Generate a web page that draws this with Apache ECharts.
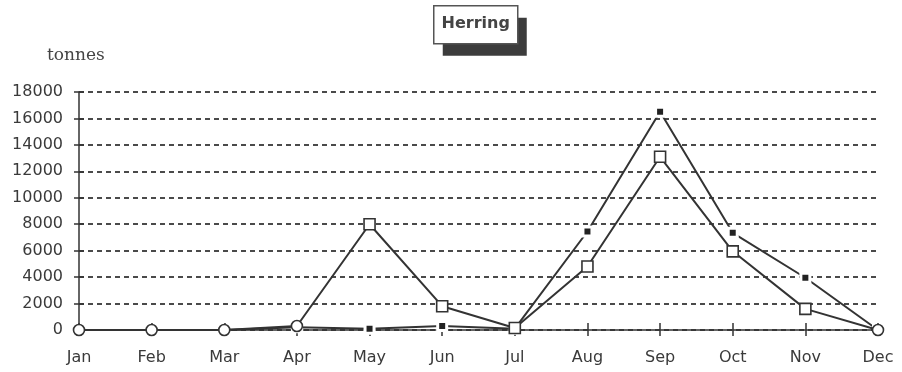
<!DOCTYPE html>
<html>
<head>
<meta charset="utf-8">
<script src="https://cdn.jsdelivr.net/npm/echarts@6/dist/echarts.min.js"></script>
<style>
  html, body { margin: 0; padding: 0; background: #fff; }
  #chart { width: 902px; height: 372px; }
</style>
</head>
<body>
<div id="chart"></div>
<script>
// Monthly herring catch, tonnes
const months = ['Jan', 'Feb', 'Mar', 'Apr', 'May', 'Jun', 'Jul', 'Aug', 'Sep', 'Oct', 'Nov', 'Dec'];
const openSeries = [0, 0, 0, 300, 8000, 1800, 150, 4800, 13100, 5950, 1600, 0];
const filledSeries = [0, 0, 0, 200, 100, 300, 100, 7450, 16500, 7350, 3950, 0];
const yTicks = { min: 0, max: 18000, interval: 2000 };

const ink = '#333';
const labelFont = { fontFamily: 'DejaVu Sans', fontSize: 16, color: '#3a3a3a' };

// markers that sit on the baseline are drawn round
const roundIdx = [0, 1, 2, 3, 11];

const chart = echarts.init(document.getElementById('chart'), null, { renderer: 'canvas' });

chart.setOption({
  backgroundColor: '#fff',
  animation: false,
  graphic: [{
    // boxed title with a solid drop shadow
    type: 'group',
    left: 433,
    top: 5,
    children: [{
      type: 'rect',
      shape: { x: 9, y: 12, width: 84, height: 38 },
      style: { fill: '#3c3c3c' }
    }, {
      type: 'rect',
      shape: { x: 0, y: 0, width: 84, height: 38 },
      style: { fill: '#fff', stroke: '#555', lineWidth: 1.5 }
    }, {
      type: 'text',
      x: 42,
      y: 18,
      style: {
        text: 'Herring',
        font: 'bold 16px "DejaVu Sans"',
        fill: '#444',
        align: 'center',
        verticalAlign: 'middle'
      }
    }]
  }, {
    type: 'text',
    left: 47,
    top: 47,
    style: { text: 'tonnes', font: '17px "DejaVu Serif"', fill: '#444' }
  }],
  grid: { left: 79, right: 24, top: 92, bottom: 42 },
  xAxis: [{
    type: 'category',
    data: months,
    boundaryGap: false,
    axisLine: { lineStyle: { color: ink, width: 1.5 } },
    axisTick: { inside: true, length: 7, lineStyle: { color: ink, width: 1.5 } },
    axisLabel: Object.assign({ margin: 20 }, labelFont),
    splitLine: { show: false }
  }, {
    // outward half of the crossing ticks
    type: 'category',
    data: months,
    position: 'bottom',
    boundaryGap: false,
    axisLine: { show: false },
    axisTick: { inside: false, length: 6, lineStyle: { color: ink, width: 1.5 } },
    axisLabel: { show: false },
    splitLine: { show: false }
  }],
  yAxis: [{
    type: 'value',
    min: yTicks.min,
    max: yTicks.max,
    interval: yTicks.interval,
    axisLine: { show: true, lineStyle: { color: ink, width: 1.5 } },
    axisTick: { show: true, inside: true, length: 5, lineStyle: { color: ink, width: 1.5 } },
    axisLabel: Object.assign({ margin: 16, formatter: function (v) { return String(v); } }, labelFont),
    splitLine: {
      show: true,
      lineStyle: { color: '#4a4a4a', width: 2, type: [5, 4] }
    }
  }, {
    type: 'value',
    position: 'left',
    min: yTicks.min,
    max: yTicks.max,
    interval: yTicks.interval,
    axisLine: { show: false },
    axisTick: { show: true, inside: false, length: 5, lineStyle: { color: ink, width: 1.5 } },
    axisLabel: { show: false },
    splitLine: { show: false }
  }],
  series: [{
    name: 'filled',
    type: 'line',
    data: filledSeries,
    symbol: 'rect',
    symbolSize: 9,
    lineStyle: { color: ink, width: 2 },
    itemStyle: { color: '#222', borderColor: '#fff', borderWidth: 3 },
    z: 3
  }, {
    name: 'open',
    type: 'line',
    data: openSeries,
    symbol: function (v, p) { return roundIdx.indexOf(p.dataIndex) >= 0 ? 'circle' : 'rect'; },
    symbolSize: 11,
    lineStyle: { color: ink, width: 2 },
    itemStyle: { color: '#fff', borderColor: ink, borderWidth: 1.6 },
    z: 4
  }]
});
</script>
</body>
</html>
